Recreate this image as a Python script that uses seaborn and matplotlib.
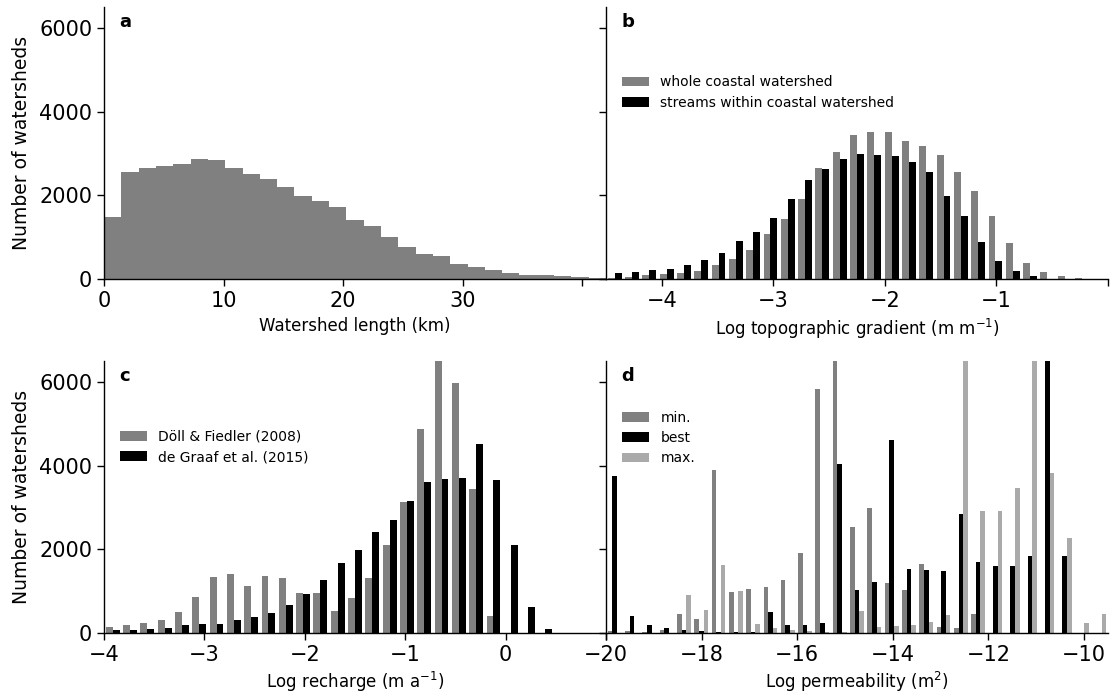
import matplotlib
matplotlib.use('Agg')
import matplotlib.pyplot as plt
import numpy as np
import pandas as pd
import seaborn as sns

# Bin ranges (29 bins per panel)
N_BINS = 29
length_range = (0, 42)
gradient_range = (-4.5, 0)
recharge_range = (-4, 1)
perm_range = (-20, -9.5)

# a: watershed length counts
length_counts = [1480, 2570, 2645, 2700, 2755, 2860, 2845, 2660, 2520, 2390,
                 2200, 1975, 1875, 1735, 1420, 1275, 1005, 775, 605, 550,
                 360, 280, 215, 150, 105, 88, 72, 56, 40]

# b: topographic gradient counts
gradient_whole = [40, 56, 88, 112, 150, 190, 335, 480, 685, 1070,
                  1440, 1920, 2650, 3045, 3440, 3505, 3505, 3300, 3170, 2970,
                  2565, 2110, 1500, 855, 390, 165, 72, 32, 16]
gradient_streams = [145, 165, 215, 255, 350, 460, 630, 910, 1115, 1460,
                    1920, 2360, 2630, 2870, 2995, 2970, 2950, 2795, 2550, 1985,
                    1500, 885, 430, 190, 72, 16, 8, 0, 0]

# c: recharge counts
recharge_doll = [145, 185, 245, 310, 505, 855, 1330, 1410, 1125, 1370,
                 1315, 955, 955, 520, 830, 1315, 2105, 3125, 4865, 7300,
                 5960, 3445, 415, 0, 0, 0, 0, 0, 0]
recharge_graaf = [65, 65, 90, 120, 190, 205, 205, 310, 390, 480,
                  680, 935, 1275, 1665, 1980, 2415, 2690, 3145, 3605, 3685,
                  3710, 4525, 3645, 2100, 620, 90, 0, 0, 0]

# d: permeability counts
perm_min = [48, 48, 32, 64, 455, 345, 3900, 980, 1060, 1100,
            1270, 1900, 5825, 7100, 2535, 2990, 1190, 1035, 1645, 145,
            130, 465, 0, 0, 0, 0, 0, 0, 0]
perm_best = [3760, 415, 185, 120, 64, 56, 32, 32, 32, 505,
             190, 185, 240, 4045, 1035, 1230, 4610, 1540, 1500, 1470,
             2840, 1690, 1605, 1605, 1850, 6800, 1850, 0, 0]
perm_max = [0, 0, 0, 0, 900, 560, 1635, 995, 215, 112,
            80, 56, 24, 32, 535, 145, 175, 185, 270, 425,
            6900, 2920, 2920, 3455, 7400, 3815, 2280, 245, 445]

GREY = '#808080'
LIGHT = '#aaaaaa'


def centers(rng):
    edges = np.linspace(rng[0], rng[1], N_BINS + 1)
    return (edges[:-1] + edges[1:]) / 2


def long_table(rng, series):
    frames = [pd.DataFrame({'x': centers(rng), 'count': vals, 'series': name})
              for name, vals in series.items()]
    return pd.concat(frames, ignore_index=True)


def narrow(ax, rng, frac=0.8):
    # squeeze dodged bars of each bin together, like matplotlib's hist
    w = (rng[1] - rng[0]) / N_BINS
    for p in ax.patches:
        i = int((p.get_x() + p.get_width() / 2 - rng[0]) // w)
        c = rng[0] + (i + 0.5) * w
        p.set_x(c + (p.get_x() - c) * frac)
        p.set_width(p.get_width() * frac)


def dodged(ax, rng, series, colors, legend_anchor):
    df = long_table(rng, series)
    names = list(series.keys())
    sns.histplot(data=df, x='x', weights='count', hue='series', hue_order=names,
                 bins=N_BINS, binrange=rng, multiple='dodge',
                 palette=dict(zip(names, colors)), alpha=1, linewidth=0, ax=ax)
    narrow(ax, rng)
    sns.move_legend(ax, 'upper left', bbox_to_anchor=legend_anchor,
                    frameon=False, title=None, fontsize=10, labelspacing=0.45)


plt.rcParams['font.family'] = ['DejaVu Sans']
fig, axes = plt.subplots(2, 2, figsize=(11.15, 7), dpi=100, sharey=True)
fig.subplots_adjust(left=0.0933, right=0.9937, top=0.99, bottom=0.0957,
                    wspace=0, hspace=0.3)
ax_a, ax_b, ax_c, ax_d = axes.ravel()

# a
df_a = pd.DataFrame({'x': centers(length_range), 'count': length_counts})
sns.histplot(data=df_a, x='x', weights='count', bins=N_BINS, binrange=length_range,
             color=GREY, alpha=1, linewidth=0, ax=ax_a)
ax_a.set_xlim(*length_range)
ax_a.set_xticks([0, 10, 20, 30, 40])
ax_a.set_xticklabels(['0', '10', '20', '30', ''])
ax_a.set_xlabel('Watershed length (km)', fontsize=12)

# b
dodged(ax_b, gradient_range,
       {'whole coastal watershed': gradient_whole,
        'streams within coastal watershed': gradient_streams},
       [GREY, 'black'], (0.006, 0.795))
ax_b.set_xlim(*gradient_range)
ax_b.set_xticks([-4, -3, -2, -1, 0])
ax_b.set_xticklabels(['\u22124', '\u22123', '\u22122', '\u22121', ''])
ax_b.set_xlabel('Log topographic gradient (m m$^{-1}$)', fontsize=12)

# c
dodged(ax_c, recharge_range,
       {'Döll & Fiedler (2008)': recharge_doll,
        'de Graaf et al. (2015)': recharge_graaf},
       [GREY, 'black'], (0.006, 0.792))
ax_c.set_xlim(*recharge_range)
ax_c.set_xticks([-4, -3, -2, -1, 0, 1])
ax_c.set_xticklabels(['\u22124', '\u22123', '\u22122', '\u22121', '0', ''])
ax_c.set_xlabel('Log recharge (m a$^{-1}$)', fontsize=12)

# d
dodged(ax_d, perm_range,
       {'min.': perm_min, 'best': perm_best, 'max.': perm_max},
       [GREY, 'black', LIGHT], (0.006, 0.862))
ax_d.set_xlim(*perm_range)
ax_d.set_xticks([-20, -18, -16, -14, -12, -10])
ax_d.set_xlabel('Log permeability (m$^2$)', fontsize=12)

for ax, letter in zip(axes.ravel(), 'abcd'):
    ax.set_ylim(0, 6500)
    ax.set_yticks([0, 2000, 4000, 6000])
    ax.tick_params(labelsize=15, width=1, length=5)
    for s in ax.spines.values():
        s.set_linewidth(1)
    ax.text(0.03, 0.945, letter, transform=ax.transAxes, fontsize=13,
            fontweight='bold', va='center', ha='left')
    ax.set_ylabel('')

ax_a.set_ylabel('Number of watersheds', fontsize=13.5, labelpad=6)
ax_c.set_ylabel('Number of watersheds', fontsize=13.5, labelpad=6)
sns.despine(fig=fig)

fig.savefig('out.png', dpi=100)
